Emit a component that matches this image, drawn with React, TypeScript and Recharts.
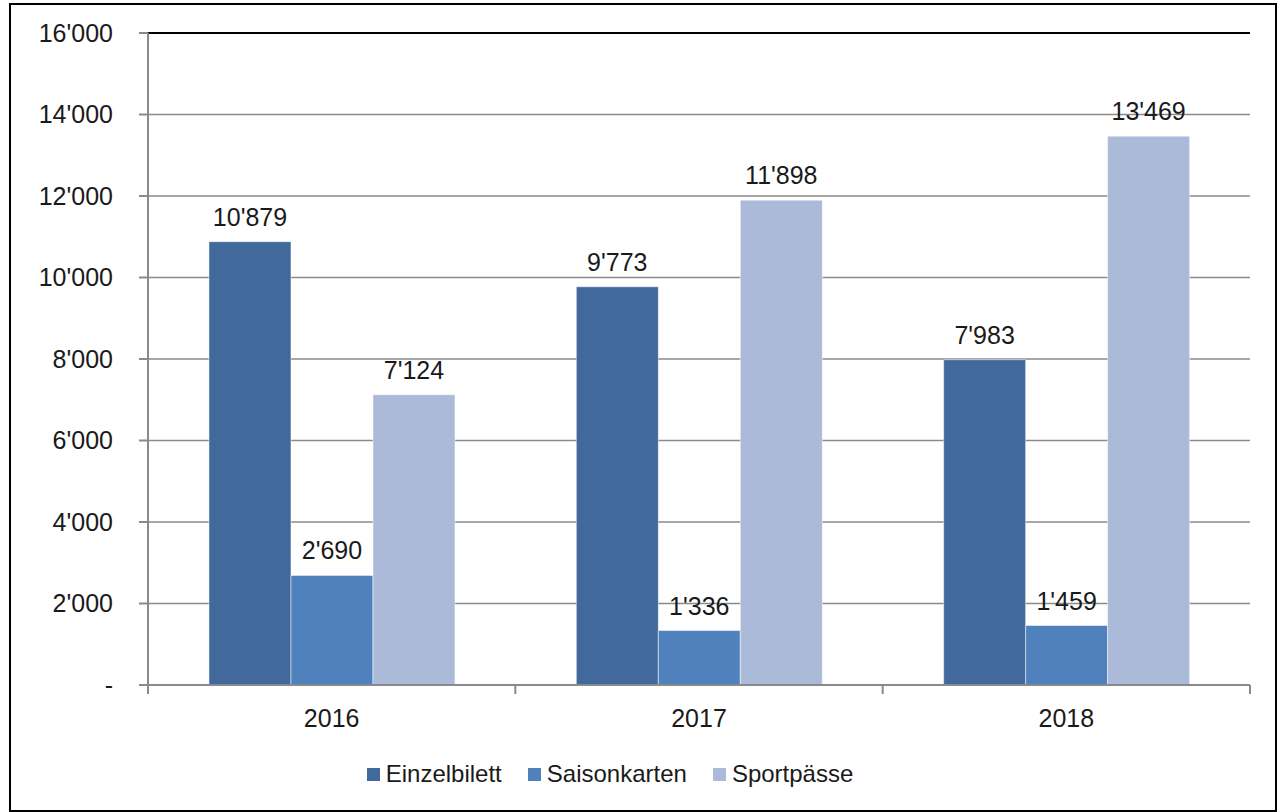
import React from 'react';
import {
  BarChart,
  Bar,
  XAxis,
  YAxis,
  CartesianGrid,
  Legend,
  LabelList,
  ReferenceLine,
} from 'recharts';

const years = ['2016', '2017', '2018'];
const einzelbilett = [10879, 9773, 7983];
const saisonkarten = [2690, 1336, 1459];
const sportpaesse = [7124, 11898, 13469];
const yTicks = [0, 2000, 4000, 6000, 8000, 10000, 12000, 14000, 16000];

const data = years.map((year, i) => ({
  year,
  einzelbilett: einzelbilett[i],
  saisonkarten: saisonkarten[i],
  sportpaesse: sportpaesse[i],
}));

const WIDTH = 1281;
const HEIGHT = 812;
const MARGIN = { top: 33, right: 31, left: 48, bottom: 24 };
const Y_AXIS_WIDTH = 100;
const FONT = '"Liberation Sans", Arial, sans-serif';
const FS = 25;
const TEXT = '#1a1a1a';
const GRID = '#8a8a8a';

// 12'345 style (Swiss apostrophe separator), zero shown as "-"
const fmt = (v: number) => {
  if (v === 0) return '-';
  return String(Math.round(v)).replace(/\B(?=(\d{3})+(?!\d))/g, "'");
};

// category ticks: label centred, tick marks on the band boundaries
function XTick(props: any) {
  const { x, y, payload, index, visibleTicksCount } = props;
  const plotW = WIDTH - MARGIN.left - Y_AXIS_WIDTH - MARGIN.right;
  const half = payload && payload.offset ? payload.offset : plotW / years.length / 2;
  const last = index === visibleTicksCount - 1;
  return (
    <g>
      <line x1={x - half} y1={y} x2={x - half} y2={y + 9} stroke={GRID} strokeWidth={2} />
      {last && <line x1={x + half} y1={y} x2={x + half} y2={y + 9} stroke={GRID} strokeWidth={2} />}
      <text x={x} y={y + 42} textAnchor="middle" fontSize={FS} fill={TEXT} fontFamily={FONT}>
        {payload.value}
      </text>
    </g>
  );
}

function LegendContent(props: any) {
  const { payload } = props;
  return (
    <div style={{ display: 'flex', justifyContent: 'center', alignItems: 'center', gap: 26 }}>
      {(payload || []).map((item: any) => (
        <div key={item.value} style={{ display: 'flex', alignItems: 'center' }}>
          <span style={{ display: 'inline-block', width: 13, height: 13, background: item.color, marginRight: 6 }} />
          <span style={{ color: TEXT, fontSize: 24, fontFamily: FONT, lineHeight: '28px' }}>{item.value}</span>
        </div>
      ))}
    </div>
  );
}

const labelStyle = { fontSize: FS, fill: TEXT, fontFamily: FONT };

export default function App() {
  return (
    <div
      style={{
        position: 'absolute',
        left: 0,
        top: 0,
        width: WIDTH,
        height: HEIGHT,
        background: '#fff',
        fontFamily: FONT,
      }}
    >
      <div
        style={{
          position: 'absolute',
          left: 9,
          top: 3,
          width: 1264,
          height: 805,
          border: '2px solid #000',
        }}
      />
      <BarChart
        width={WIDTH}
        height={HEIGHT}
        data={data}
        margin={MARGIN}
        barCategoryGap="16.6%"
        barGap={0}
        style={{ position: 'absolute', left: 0, top: 0 }}
      >
        <CartesianGrid vertical={false} stroke={GRID} strokeWidth={1.5} />
        <XAxis
          dataKey="year"
          height={75}
          axisLine={{ stroke: GRID, strokeWidth: 2 }}
          tickLine={false}
          tickSize={0}
          tickMargin={0}
          tick={<XTick />}
          interval={0}
        />
        <YAxis
          width={Y_AXIS_WIDTH}
          domain={[0, 16000]}
          ticks={yTicks}
          interval={0}
          tickFormatter={fmt}
          axisLine={{ stroke: GRID, strokeWidth: 2 }}
          tickLine={{ stroke: GRID, strokeWidth: 2 }}
          tickSize={9}
          tickMargin={26}
          tick={{ fontSize: FS, fill: TEXT, fontFamily: FONT }}
        />
        <YAxis
          yAxisId="right"
          orientation="right"
          width={0}
          domain={[0, 16000]}
          axisLine={{ stroke: '#000', strokeWidth: 2 }}
          tick={false}
          tickLine={false}
        />
        <ReferenceLine y={16000} stroke="#000" strokeWidth={2} />
        <Legend
          verticalAlign="bottom"
          align="center"
          content={<LegendContent />}
          wrapperStyle={{ left: 0, width: 1220 }}
        />
        <Bar dataKey="einzelbilett" name="Einzelbilett" fill="#41699b" stroke="#ffffff" strokeWidth={0.5} isAnimationActive={false}>
          <LabelList dataKey="einzelbilett" position="top" offset={16} formatter={(v: any) => fmt(Number(v))} style={labelStyle} />
        </Bar>
        <Bar dataKey="saisonkarten" name="Saisonkarten" fill="#4f81bd" stroke="#ffffff" strokeWidth={0.5} isAnimationActive={false}>
          <LabelList dataKey="saisonkarten" position="top" offset={16} formatter={(v: any) => fmt(Number(v))} style={labelStyle} />
        </Bar>
        <Bar dataKey="sportpaesse" name="Sportpässe" fill="#aabad8" stroke="#ffffff" strokeWidth={0.5} isAnimationActive={false}>
          <LabelList dataKey="sportpaesse" position="top" offset={16} formatter={(v: any) => fmt(Number(v))} style={labelStyle} />
        </Bar>
      </BarChart>
    </div>
  );
}
